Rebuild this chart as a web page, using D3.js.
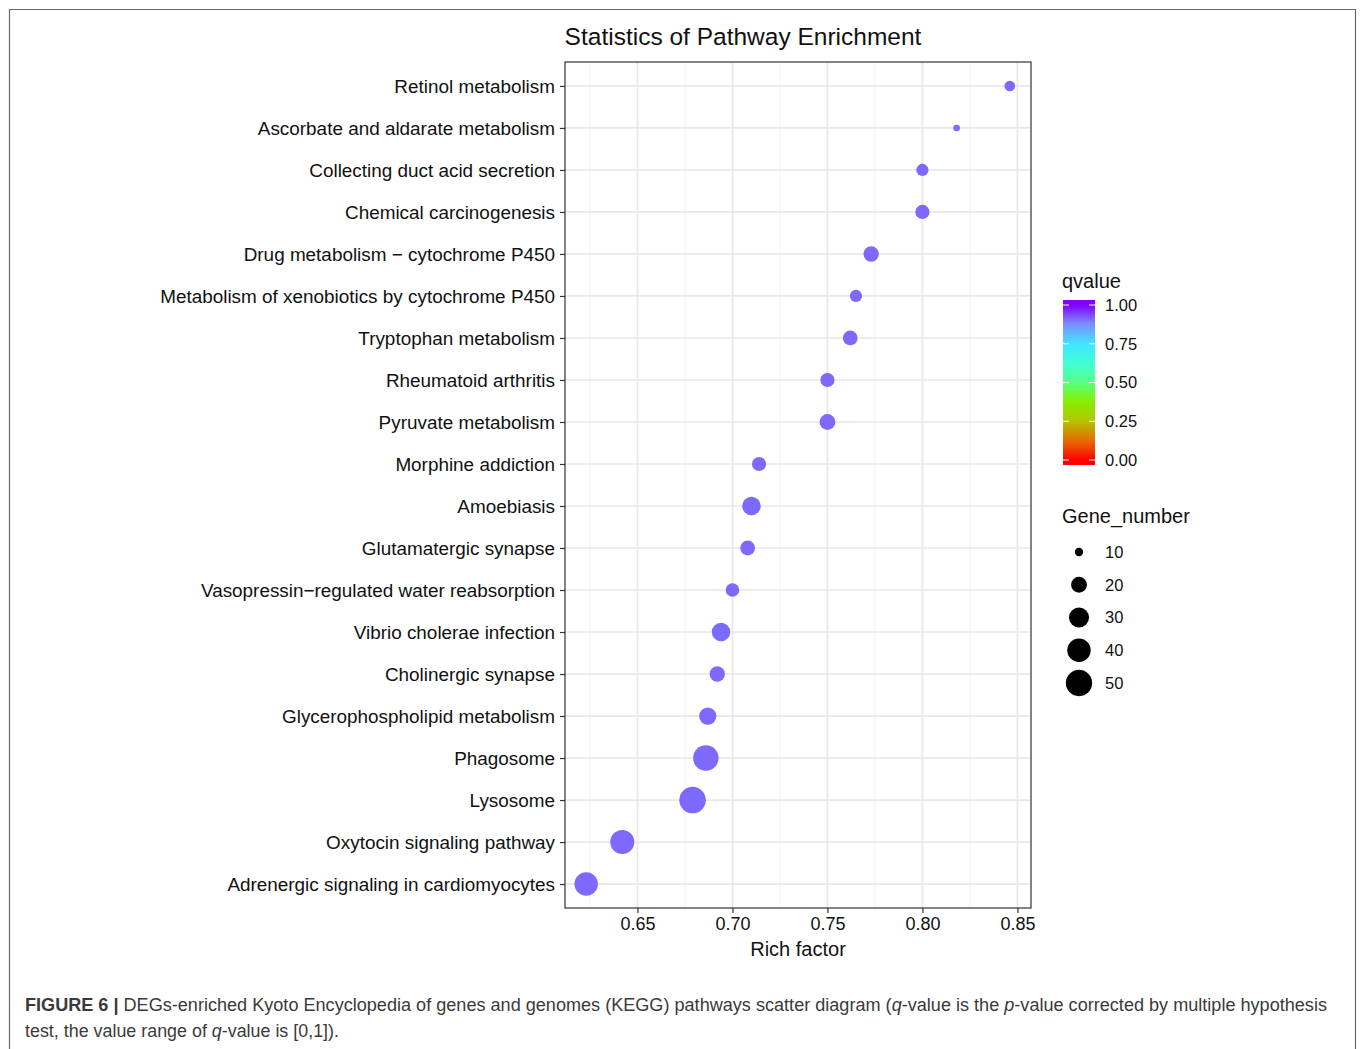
<!DOCTYPE html>
<html><head><meta charset="utf-8">
<script src="https://cdn.jsdelivr.net/npm/d3@7"></script>
<style>
body{margin:0;background:#fff}
svg{display:block;font-family:"Liberation Sans",Arial,Helvetica,sans-serif}
</style>
</head><body>
<svg id="chart" width="1360" height="1049"></svg>
<script>
// ---------------- data (top to bottom as shown) ----------------
const pathways = [
  "Retinol metabolism",
  "Ascorbate and aldarate metabolism",
  "Collecting duct acid secretion",
  "Chemical carcinogenesis",
  "Drug metabolism \u2212 cytochrome P450",
  "Metabolism of xenobiotics by cytochrome P450",
  "Tryptophan metabolism",
  "Rheumatoid arthritis",
  "Pyruvate metabolism",
  "Morphine addiction",
  "Amoebiasis",
  "Glutamatergic synapse",
  "Vasopressin\u2212regulated water reabsorption",
  "Vibrio cholerae infection",
  "Cholinergic synapse",
  "Glycerophospholipid metabolism",
  "Phagosome",
  "Lysosome",
  "Oxytocin signaling pathway",
  "Adrenergic signaling in cardiomyocytes"
];
const richFactor = [0.846, 0.818, 0.800, 0.800, 0.773, 0.765, 0.762, 0.750, 0.750, 0.714,
                    0.710, 0.708, 0.700, 0.694, 0.692, 0.687, 0.686, 0.679, 0.642, 0.623];
const geneNumber = [12, 9, 14, 17, 19, 14, 18, 17, 20, 17,
                    26, 18, 16, 26, 19, 23, 47, 51, 42, 40];
const qValue = [0.91, 0.91, 0.91, 0.91, 0.91, 0.91, 0.91, 0.91, 0.91, 0.91,
                0.91, 0.91, 0.91, 0.91, 0.91, 0.91, 0.91, 0.91, 0.91, 0.91];
const xTicks = [0.65, 0.70, 0.75, 0.80, 0.85];
const xMinor = [0.625, 0.675, 0.725, 0.775, 0.825];
const qTicks = [0, 0.25, 0.5, 0.75, 1];
const geneLegend = [10, 20, 30, 40, 50];

const titleText = "Statistics of Pathway Enrichment";
const xTitle = "Rich factor";
const colorTitle = "qvalue";
const sizeTitle = "Gene_number";

// ---------------- layout ----------------
const svg = d3.select("#chart");
const panel = {left: 565, right: 1031, top: 62, bottom: 908};

// outer frame
svg.append("path")
  .attr("d", "M9.5,1049 V9.5 H1355.5 V1049")
  .attr("fill", "none").attr("stroke", "#6a6a6a").attr("stroke-width", 1.2);

// scales
const xr = d3.extent(richFactor);
const pad = (xr[1] - xr[0]) * 0.05;
const x = d3.scaleLinear().domain([xr[0] - pad, xr[1] + pad]).range([panel.left, panel.right]);
const y = d3.scalePoint().domain(pathways).range([panel.top, panel.bottom]).padding(0.57);

const colorStops = [0, 0.12, 0.25, 0.38, 0.5, 0.62, 0.75, 0.88, 1];
const colorVals = ["#ff0000", "#e86800", "#b4c400", "#86f000", "#58ff86", "#40ffd4", "#40e6ff", "#7e8cff", "#7f00ff"];
const color = d3.scaleLinear().domain(colorStops).range(colorVals).interpolate(d3.interpolateRgb);

const nLo = 8.5, nHi = 55;
const rLin = d3.scaleLinear().domain([0, 1]).range([2.1, 13.8]);
const size = n => rLin(Math.sqrt(Math.max(0, (n - nLo) / (nHi - nLo))));

// panel background + grid
const g = svg.append("g");
g.append("rect").attr("x", panel.left).attr("y", panel.top)
  .attr("width", panel.right - panel.left).attr("height", panel.bottom - panel.top).attr("fill", "#fff");
g.selectAll(".xminor").data(xMinor.filter(v => x(v) > panel.left && x(v) < panel.right)).join("line")
  .attr("x1", d => x(d)).attr("x2", d => x(d)).attr("y1", panel.top).attr("y2", panel.bottom)
  .attr("stroke", "#f0f0f0").attr("stroke-width", 0.9);
g.selectAll(".xmajor").data(xTicks).join("line")
  .attr("x1", d => x(d)).attr("x2", d => x(d)).attr("y1", panel.top).attr("y2", panel.bottom)
  .attr("stroke", "#e8e8e8").attr("stroke-width", 1.7);
g.selectAll(".ymajor").data(pathways).join("line")
  .attr("x1", panel.left).attr("x2", panel.right).attr("y1", d => y(d)).attr("y2", d => y(d))
  .attr("stroke", "#e8e8e8").attr("stroke-width", 1.7);

// points
const pts = pathways.map((p, i) => ({p, rf: richFactor[i], n: geneNumber[i], q: qValue[i]}));
g.selectAll("circle.pt").data(pts).join("circle")
  .attr("class", "pt")
  .attr("cx", d => x(d.rf)).attr("cy", d => y(d.p)).attr("r", d => size(d.n))
  .attr("fill", d => color(d.q));

// panel border
g.append("rect").attr("x", panel.left).attr("y", panel.top)
  .attr("width", panel.right - panel.left).attr("height", panel.bottom - panel.top)
  .attr("fill", "none").attr("stroke", "#333").attr("stroke-width", 1.2);

// axes
const xAxis = svg.append("g").attr("transform", `translate(0,${panel.bottom})`)
  .call(d3.axisBottom(x).tickValues(xTicks).tickFormat(d3.format(".2f")).tickSize(5).tickPadding(4));
xAxis.select(".domain").remove();
xAxis.selectAll("line").attr("stroke", "#333").attr("stroke-width", 1.2);
xAxis.selectAll("text").attr("font-size", 18).attr("fill", "#111").attr("font-family", null);

const yAxis = svg.append("g").attr("transform", `translate(${panel.left},0)`)
  .call(d3.axisLeft(y).tickSize(5).tickPadding(5));
yAxis.select(".domain").remove();
yAxis.selectAll("line").attr("stroke", "#333").attr("stroke-width", 1.2);
yAxis.selectAll("text").attr("font-size", 18.9).attr("fill", "#111").attr("font-family", null);

// titles
svg.append("text").attr("x", 743).attr("y", 45).attr("text-anchor", "middle")
  .attr("font-size", 24.5).attr("fill", "#111").text(titleText);
svg.append("text").attr("x", (panel.left + panel.right) / 2).attr("y", 956).attr("text-anchor", "middle")
  .attr("font-size", 20).attr("fill", "#111").text(xTitle);

// colour legend
const bar = {x: 1063, w: 32, top: 300, bottom: 465};
const qy = d3.scaleLinear().domain([0, 1]).range([460, 305]);
svg.append("text").attr("x", 1062).attr("y", 288).attr("font-size", 20).attr("fill", "#111").text(colorTitle);
const defs = svg.append("defs");
const grad = defs.append("linearGradient").attr("id", "qgrad")
  .attr("x1", 0).attr("y1", 1).attr("x2", 0).attr("y2", 0);
d3.range(0, 1.0001, 0.02).forEach(t => {
  const yy = bar.bottom - t * (bar.bottom - bar.top);
  const q = Math.max(0, Math.min(1, qy.invert(yy)));
  grad.append("stop").attr("offset", t).attr("stop-color", color(q));
});
svg.append("rect").attr("x", bar.x).attr("y", bar.top).attr("width", bar.w)
  .attr("height", bar.bottom - bar.top).attr("fill", "url(#qgrad)");
const qt = svg.append("g");
qt.selectAll("line.l").data(qTicks).join("line")
  .attr("x1", bar.x).attr("x2", bar.x + 6).attr("y1", d => qy(d)).attr("y2", d => qy(d))
  .attr("stroke", "#fff").attr("stroke-width", 1);
qt.selectAll("line.r").data(qTicks).join("line")
  .attr("x1", bar.x + bar.w - 6).attr("x2", bar.x + bar.w).attr("y1", d => qy(d)).attr("y2", d => qy(d))
  .attr("stroke", "#fff").attr("stroke-width", 1);
qt.selectAll("text").data(qTicks).join("text")
  .attr("x", 1105).attr("y", d => qy(d)).attr("dy", "0.35em")
  .attr("font-size", 16.5).attr("fill", "#111").text(d => d3.format(".2f")(d));

// size legend
svg.append("text").attr("x", 1062).attr("y", 523).attr("font-size", 20).attr("fill", "#111").text(sizeTitle);
const ly = d3.scalePoint().domain(geneLegend).range([552, 683]);
const sl = svg.append("g");
sl.selectAll("circle").data(geneLegend).join("circle")
  .attr("cx", 1079).attr("cy", d => ly(d)).attr("r", d => size(d)).attr("fill", "#000");
sl.selectAll("text").data(geneLegend).join("text")
  .attr("x", 1105).attr("y", d => ly(d)).attr("dy", "0.35em")
  .attr("font-size", 16.5).attr("fill", "#111").text(d => d);

// caption
const cap1 = svg.append("text").attr("x", 25).attr("y", 1011).attr("font-size", 17.5).attr("fill", "#3a3a3a")
  .attr("textLength", 1302).attr("lengthAdjust", "spacingAndGlyphs");
cap1.append("tspan").attr("font-weight", "bold").text("FIGURE 6 |");
cap1.append("tspan").text(" DEGs-enriched Kyoto Encyclopedia of genes and genomes (KEGG) pathways scatter diagram (");
cap1.append("tspan").attr("font-style", "italic").text("q");
cap1.append("tspan").text("-value is the ");
cap1.append("tspan").attr("font-style", "italic").text("p");
cap1.append("tspan").text("-value corrected by multiple hypothesis");
const cap2 = svg.append("text").attr("x", 25).attr("y", 1037).attr("font-size", 17.5).attr("fill", "#3a3a3a")
  .attr("textLength", 314).attr("lengthAdjust", "spacingAndGlyphs");
cap2.append("tspan").text("test, the value range of ");
cap2.append("tspan").attr("font-style", "italic").text("q");
cap2.append("tspan").text("-value is [0,1]).");
</script>
</body></html>
